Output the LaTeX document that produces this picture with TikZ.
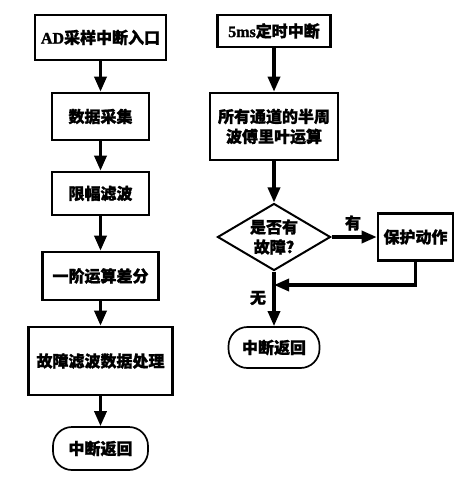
\documentclass[tikz,border=0pt]{standalone}
\usepackage{fontspec}
\setmainfont{Liberation Serif}[BoldFeatures={FakeBold=1.5}]
\newfontfamily\hei{Noto Sans CJK SC}[BoldFeatures={FakeBold=1.2}]
\newcommand{\zh}[1]{{\hei\bfseries #1}}
\usetikzlibrary{shapes.geometric}
\usetikzlibrary{arrows.meta}

\begin{document}
\begin{tikzpicture}[x=1pt, y=-1pt]
                \tikzstyle{txt} = [font=\fontsize{16}{20}\selectfont\bfseries, align=center, inner sep=0pt]
                \tikzstyle{box} = [txt, draw, line width=2.6pt]
                \tikzstyle{term} = [txt, draw, line width=1.7pt, rounded corners=19pt]
                \tikzstyle{judge} = [txt, draw, line width=2pt, diamond, aspect=1.7, minimum width=113pt, minimum height=67pt]
                \tikzstyle{flow} = [line width=3.3pt, -{Triangle[length=15pt, width=12pt]}]
                \useasboundingbox (0, 0) rectangle (473, 478);
                \node[box, minimum width=131pt, minimum height=45pt] (ad) at (100.5, 37.5) {AD\zh{采样中断入口}};
                \node[box, minimum width=97pt, minimum height=47pt] (caiji) at (100.5, 116.5) {\zh{数据采集}};
                \node[box, minimum width=97pt, minimum height=43pt] (xianfu) at (100.5, 193.5) {\zh{限幅滤波}};
                \node[box, minimum width=116pt, minimum height=48pt] (chafen) at (100.5, 276) {\zh{一阶运算差分}};
                \node[box, minimum width=144pt, minimum height=68pt] (chuli) at (100.5, 361) {\zh{故障滤波数据处理}};
                \node[term, minimum width=95pt, minimum height=43pt] (fanhui1) at (100.5, 448.5) {\zh{中断返回}};
                \node[box, minimum width=113pt, minimum height=32pt] (dingshi) at (274, 31) {5ms\zh{定时中断}};
                \node[box, minimum width=128pt, minimum height=67pt] (fft) at (274, 126.5) {\zh{所有通道的半周}\\\zh{波傅里叶运算}};
                \node[judge] (panduan) at (274, 237) {\zh{是否有}\\\zh{故障?}};
                \node[box, minimum width=75pt, minimum height=47pt] (baohu) at (415.5, 237) {\zh{保护动作}};
                \node[term, minimum width=91pt, minimum height=41pt] (fanhui2) at (274, 347.5) {\zh{中断返回}};
                \node[txt] (you) at (353, 223) {\zh{有}};
                \node[txt] (wu) at (258, 298) {\zh{无}};
                \coordinate (huihe) at (274, 285);
                \draw[flow] (ad) -- (caiji);
                \draw[flow] (caiji) -- (xianfu);
                \draw[flow] (xianfu) -- (chafen);
                \draw[flow] (chafen) -- (chuli);
                \draw[flow] (chuli) -- (fanhui1);
                \draw[flow] (dingshi) -- (fft);
                \draw[flow] (fft) -- (panduan);
                \draw[flow] (panduan) -- (baohu);
                \draw[flow] (panduan) -- (fanhui2);
                \draw[flow] (baohu.south) |- (huihe);
            \end{tikzpicture}
\end{document}
